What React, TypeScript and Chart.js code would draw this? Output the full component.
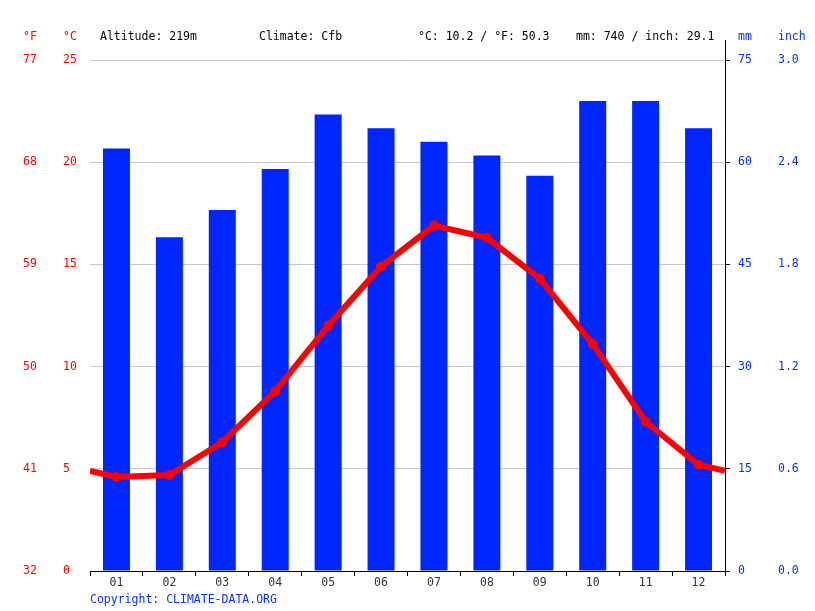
import { useEffect, useRef } from "react"
import Chart from "chart.js/auto"

const months = ["01", "02", "03", "04", "05", "06", "07", "08", "09", "10", "11", "12"]
const precipMm = [62, 49, 53, 59, 67, 65, 63, 61, 58, 69, 69, 65]
const tempC = [4.6, 4.7, 6.3, 8.8, 12.0, 14.9, 16.9, 16.3, 14.3, 11.1, 7.3, 5.2]
// where the temperature line meets the left and right edges
const tempEdgeC = [4.9, 4.9]

const fTicks = [32, 41, 50, 59, 68, 77]
const cTicks = [0, 5, 10, 15, 20, 25]
const mmTicks = [0, 15, 30, 45, 60, 75]
const inchTicks = [0, 0.6, 1.2, 1.8, 2.4, 3.0]

const RED = "#ff0000"
const BLUE = "#0033ff"
const FONT = "'DejaVu Sans Mono', monospace"

export default function App() {
  const canvasRef = useRef<HTMLCanvasElement | null>(null)

  useEffect(() => {
    if (!canvasRef.current) return

    // months sit at the middle of each unit on a linear x axis
    const barPoints = precipMm.map((v, i) => ({ x: i + 0.5, y: v }))
    const linePoints = [
      { x: 0, y: tempEdgeC[0] },
      ...tempC.map((t, i) => ({ x: i + 0.5, y: t })),
      { x: months.length, y: tempEdgeC[1] },
    ]
    const radii = linePoints.map((_, i) => (i === 0 || i === linePoints.length - 1 ? 0 : 5))

    // right axis line runs a bit above the plot
    const axisExtend = {
      id: "axisExtend",
      afterDraw(chart: any) {
        const s = chart.scales.yMm
        const ctx = chart.ctx
        ctx.save()
        ctx.strokeStyle = "#000"
        ctx.lineWidth = 1
        ctx.beginPath()
        ctx.moveTo(s.left + 0.5, 40)
        ctx.lineTo(s.left + 0.5, chart.chartArea.bottom + 4)
        ctx.stroke()
        ctx.restore()
      },
    }

    const chart = new Chart(canvasRef.current, {
      type: "bar",
      data: {
        datasets: [
          {
            type: "line",
            data: linePoints as any,
            yAxisID: "yC",
            borderColor: RED,
            backgroundColor: RED,
            borderWidth: 6,
            pointRadius: radii,
            pointHoverRadius: radii,
            pointBorderWidth: 0,
            pointBackgroundColor: RED,
            tension: 0,
            clip: 0,
            order: 0,
          },
          {
            type: "bar",
            data: barPoints as any,
            yAxisID: "yMm",
            backgroundColor: "#0026ff",
            barPercentage: 0.51,
            categoryPercentage: 1,
            order: 1,
          },
        ],
      },
      options: {
        animation: false,
        responsive: true,
        maintainAspectRatio: false,
        layout: { padding: { left: 23, right: 0, top: 60, bottom: 0 } },
        plugins: { legend: { display: false }, tooltip: { enabled: false } },
        font: { family: FONT, size: 11.5 },
        scales: {
          x: {
            type: "linear",
            position: "bottom",
            offset: false,
            min: 0,
            max: months.length,
            afterBuildTicks: (s: any) => {
              s.ticks = months.map((_, i) => ({ value: i + 0.5 }))
            },
            grid: {
              offset: true,
              drawOnChartArea: false,
              drawTicks: true,
              tickLength: 5,
              color: "#000",
            },
            border: { display: true, color: "#000" },
            ticks: {
              color: "#333",
              padding: 0,
              autoSkip: false,
              maxRotation: 0,
              font: { family: FONT, size: 11.5 },
              callback: (v: any) => months[Math.floor(Number(v))],
            },
            afterFit: (s: any) => {
              s.height = 40
            },
          },
          yF: {
            type: "linear",
            position: "left",
            weight: 1,
            min: fTicks[0],
            max: fTicks[fTicks.length - 1],
            afterBuildTicks: (s: any) => {
              s.ticks = fTicks.map((v) => ({ value: v }))
            },
            grid: { display: false, drawTicks: false },
            border: { display: false },
            ticks: { color: RED, crossAlign: "far", padding: 0, font: { family: FONT, size: 11.5 } },
            afterFit: (s: any) => {
              s.width = 40
            },
          },
          yC: {
            type: "linear",
            position: "left",
            weight: 0,
            min: cTicks[0],
            max: cTicks[cTicks.length - 1],
            afterBuildTicks: (s: any) => {
              s.ticks = cTicks.map((v) => ({ value: v }))
            },
            grid: { color: "#c8c8c8", drawTicks: false, lineWidth: 1 },
            border: { display: false },
            ticks: { color: RED, crossAlign: "far", padding: 0, font: { family: FONT, size: 11.5 } },
            afterFit: (s: any) => {
              s.width = 27
            },
          },
          yMm: {
            type: "linear",
            position: "right",
            weight: 0,
            min: mmTicks[0],
            max: mmTicks[mmTicks.length - 1],
            afterBuildTicks: (s: any) => {
              s.ticks = mmTicks.map((v) => ({ value: v }))
            },
            grid: {
              drawOnChartArea: false,
              drawTicks: true,
              tickLength: 5,
              color: "#000",
            },
            border: { display: true, color: "#000" },
            ticks: { color: BLUE, padding: 8, font: { family: FONT, size: 11.5 } },
            afterFit: (s: any) => {
              s.width = 53
            },
          },
          yIn: {
            type: "linear",
            position: "right",
            weight: 1,
            min: inchTicks[0],
            max: inchTicks[inchTicks.length - 1],
            afterBuildTicks: (s: any) => {
              s.ticks = inchTicks.map((v) => ({ value: v }))
            },
            grid: { display: false, drawTicks: false },
            border: { display: false },
            ticks: {
              color: BLUE,
              padding: 0,
              font: { family: FONT, size: 11.5 },
              callback: (v: any) => Number(v).toFixed(1),
            },
            afterFit: (s: any) => {
              s.width = 37
            },
          },
        },
      } as any,
      plugins: [axisExtend],
    })

    return () => {
      chart.destroy()
    }
  }, [])

  const text = (color: string) => ({
    position: "absolute" as const,
    top: 29,
    lineHeight: "14px",
    fontFamily: FONT,
    fontSize: "11.5px",
    color,
    whiteSpace: "pre" as const,
  })

  return (
    <div
      style={{
        position: "fixed",
        left: 0,
        top: 0,
        width: 815,
        height: 611,
        background: "#fff",
        overflow: "hidden",
      }}
    >
      <div style={{ position: "absolute", left: 0, top: 0, width: 815, height: 611 }}>
        <canvas ref={canvasRef} />
      </div>
      <span style={{ ...text(RED), left: 23 }}>°F</span>
      <span style={{ ...text(RED), left: 63 }}>°C</span>
      <span style={{ ...text("#000"), left: 100 }}>Altitude: 219m</span>
      <span style={{ ...text("#000"), left: 259 }}>Climate: Cfb</span>
      <span style={{ ...text("#000"), left: 418 }}>°C: 10.2 / °F: 50.3</span>
      <span style={{ ...text("#000"), left: 576 }}>mm: 740 / inch: 29.1</span>
      <span style={{ ...text(BLUE), left: 738 }}>mm</span>
      <span style={{ ...text(BLUE), left: 778 }}>inch</span>
      <span style={{ ...text(BLUE), left: 90, top: 592 }}>Copyright: CLIMATE-DATA.ORG</span>
    </div>
  )
}
